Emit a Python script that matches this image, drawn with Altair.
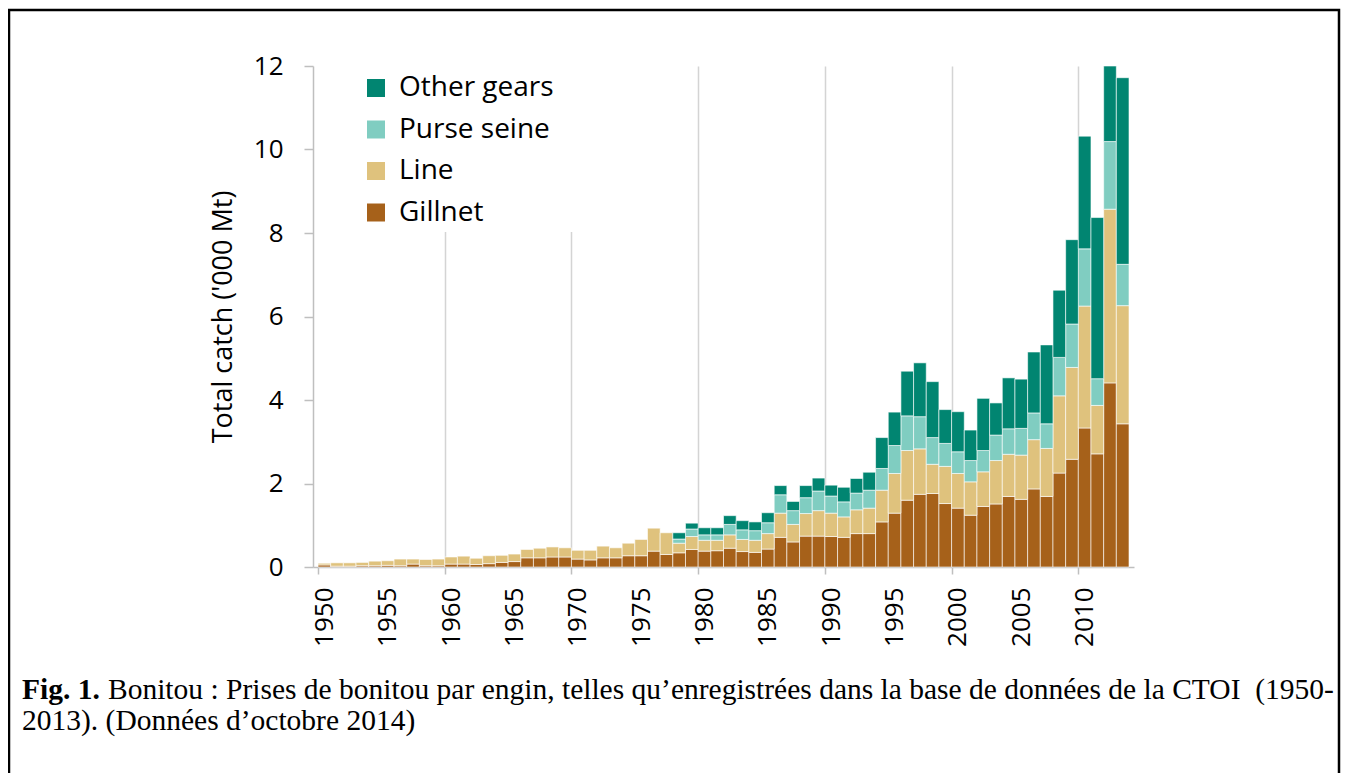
import altair as alt
import pandas as pd

years = list(range(1950, 2014))
gears = ["Other gears", "Purse seine", "Line", "Gillnet"]
colors = ["#018571", "#80cdc1", "#dfc27d", "#a6611a"]

gillnet = [0.05, 0.02, 0.02, 0.03, 0.03, 0.04, 0.03, 0.07, 0.03, 0.03,
           0.07, 0.07, 0.06, 0.08, 0.11, 0.13, 0.22, 0.22, 0.24, 0.24,
           0.19, 0.17, 0.22, 0.22, 0.27, 0.27, 0.38, 0.30, 0.34, 0.42,
           0.38, 0.39, 0.45, 0.37, 0.35, 0.43, 0.71, 0.60, 0.74, 0.74,
           0.73, 0.71, 0.80, 0.80, 1.08, 1.29, 1.60, 1.74, 1.76, 1.52,
           1.41, 1.24, 1.45, 1.51, 1.69, 1.62, 1.87, 1.69, 2.25, 2.58,
           3.33, 2.71, 4.41, 3.43]
line = [0.04, 0.08, 0.08, 0.08, 0.11, 0.11, 0.16, 0.12, 0.15, 0.16,
        0.17, 0.19, 0.15, 0.19, 0.17, 0.18, 0.20, 0.23, 0.24, 0.22,
        0.21, 0.23, 0.28, 0.24, 0.30, 0.39, 0.55, 0.52, 0.23, 0.31,
        0.26, 0.25, 0.32, 0.29, 0.29, 0.37, 0.58, 0.42, 0.54, 0.61,
        0.56, 0.49, 0.57, 0.61, 0.76, 0.95, 1.19, 1.09, 0.70, 0.89,
        0.83, 0.80, 0.83, 1.04, 1.01, 1.06, 1.18, 1.15, 1.85, 2.20,
        2.92, 1.16, 4.16, 2.83]
purse_seine = [0, 0, 0, 0, 0, 0, 0, 0, 0, 0,
               0, 0, 0, 0, 0, 0, 0, 0, 0, 0,
               0, 0, 0, 0, 0, 0, 0, 0, 0.10, 0.18,
               0.13, 0.13, 0.25, 0.23, 0.23, 0.26, 0.44, 0.33, 0.38, 0.47,
               0.41, 0.36, 0.40, 0.43, 0.52, 0.67, 0.83, 0.77, 0.64, 0.55,
               0.52, 0.51, 0.51, 0.61, 0.61, 0.64, 0.64, 0.59, 0.92, 1.04,
               1.37, 0.64, 1.62, 0.99]
other_gears = [0, 0, 0, 0, 0, 0, 0, 0, 0, 0,
               0, 0, 0, 0, 0, 0, 0, 0, 0, 0,
               0, 0, 0, 0, 0, 0, 0, 0, 0.15, 0.14,
               0.17, 0.17, 0.21, 0.22, 0.21, 0.24, 0.22, 0.22, 0.29, 0.31,
               0.26, 0.35, 0.35, 0.43, 0.74, 0.80, 1.07, 1.29, 1.34, 0.81,
               0.96, 0.73, 1.25, 0.77, 1.22, 1.18, 1.46, 1.89, 1.61, 2.02,
               2.70, 3.86, 1.81, 4.47]

x_label_years = [1950, 1955, 1960, 1965, 1970, 1975, 1980, 1985,
                 1990, 1995, 2000, 2005, 2010]
y_ticks = [0, 2, 4, 6, 8, 10, 12]

caption_bold = "Fig. 1."
caption_line1 = ("Bonitou : Prises de bonitou par engin, telles qu\u2019enregistrées "
                 "dans la base de données de la CTOI\u00a0 (1950-")
caption_line2 = "2013). (Données d\u2019octobre 2014)"

series = {"Gillnet": gillnet, "Line": line, "Purse seine": purse_seine,
          "Other gears": other_gears}
stack_rank = {"Gillnet": 0, "Line": 1, "Purse seine": 2, "Other gears": 3}
rows = []
for g, vals in series.items():
    for yr, v in zip(years, vals):
        rows.append({"year": yr, "year_end": yr + 1, "gear": g,
                     "rank": stack_rank[g], "value": v})
df = pd.DataFrame(rows)

W, H = 821, 501
FONT = "Open Sans"
GRID = "#d4d4d4"
AXIS = "#bfbfbf"

x_scale = alt.Scale(domain=[1950, 2014], nice=False, zero=False)
y_scale = alt.Scale(domain=[0, 12], nice=False)

bars = alt.Chart(df).transform_filter("datum.value > 0").mark_bar(
    stroke="white", strokeWidth=1, strokeOpacity=0.6
).encode(
    x=alt.X("year:Q", scale=x_scale, title=None,
            axis=alt.Axis(values=x_label_years, format="d", labelAngle=270,
                          labelAlign="right", labelBaseline="middle", labelOffset=6.4,
                          labelFlush=False, labelOverlap=False, labelFont=FONT,
                          labelFontSize=26, labelColor="black", labelPadding=13,
                          tickSize=7, tickWidth=1.5, domainColor=AXIS, domainWidth=1.5,
                          tickColor={"condition": {"test": "datum.value % 10 === 0",
                                                   "value": AXIS},
                                     "value": "transparent"},
                          grid=True, gridWidth=1.5,
                          gridColor={"condition": {"test": "datum.value % 10 === 0 && datum.value > 1950",
                                                   "value": GRID},
                                     "value": "transparent"})),
    x2="year_end:Q",
    y=alt.Y("sum(value):Q", scale=y_scale, stack="zero",
            title="Total catch ('000 Mt)",
            axis=alt.Axis(values=y_ticks, grid=False, labelFont=FONT, labelFontSize=26,
                          labelColor="black", labelPadding=21, tickSize=9,
                          tickColor=AXIS, tickWidth=1.5, domainColor=AXIS,
                          domainWidth=1.5, titleFont=FONT, titleFontSize=27,
                          titleFontWeight="normal", titleColor="black",
                          titlePadding=16, zindex=1)),
    color=alt.Color("gear:N", scale=alt.Scale(domain=gears, range=colors),
                    legend=alt.Legend(orient="none", legendX=49, legendY=8, title=None,
                                      symbolType="square", symbolSize=324,
                                      symbolStrokeWidth=0, labelFont=FONT,
                                      labelFontSize=28, labelColor="black",
                                      rowPadding=13.5, labelOffset=9, padding=0)),
    order=alt.Order("rank:Q", sort="ascending"),
)

one = pd.DataFrame({"k": [0]})

frame = alt.Chart(one).mark_rect(fillOpacity=0, stroke="black", strokeWidth=2.5).encode(
    x=alt.value(-304), x2=alt.value(1026), y=alt.value(-56), y2=alt.value(760)
)
legend_bg = alt.Chart(one).mark_rect(fill="white").encode(
    x=alt.value(2), x2=alt.value(300), y=alt.value(0), y2=alt.value(166)
)

cap_df = pd.DataFrame({"bold": [caption_bold], "l1": [caption_line1], "l2": [caption_line2]})
cap_common = dict(font="Liberation Serif", fontSize=29.5, color="black", align="left",
                  baseline="alphabetic")
cap_b = alt.Chart(cap_df).mark_text(fontWeight="bold", **cap_common).encode(
    text="bold:N", x=alt.value(-291), y=alt.value(633))
cap_1 = alt.Chart(cap_df).mark_text(**cap_common).encode(
    text="l1:N", x=alt.value(-205), y=alt.value(633))
cap_2 = alt.Chart(cap_df).mark_text(**cap_common).encode(
    text="l2:N", x=alt.value(-291), y=alt.value(664))

chart = alt.layer(legend_bg, bars, frame, cap_b, cap_1, cap_2).properties(
    width=W, height=H,
    autosize=alt.AutoSizeParams(type="none"),
    padding={"left": 305, "top": 58, "right": 207, "bottom": 206},
    background="white",
).configure_view(stroke=None)

chart.save("out.html", embed_options={"renderer": "svg", "actions": False})
